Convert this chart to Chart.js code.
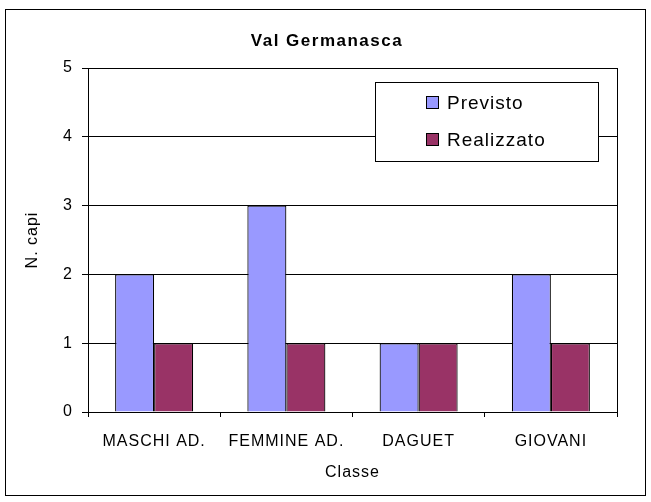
<!DOCTYPE html>
<html>
<head>
<meta charset="utf-8">
<script src="https://cdn.jsdelivr.net/npm/chart.js@4"></script>
<style>
  html, body { margin: 0; padding: 0; background: #fff; }
  #wrap { width: 651px; height: 502px; }
</style>
</head>
<body>
<div id="wrap"><canvas id="graph" width="651" height="502"></canvas></div>
<script>
const categories = ["MASCHI AD.", "FEMMINE AD.", "DAGUET", "GIOVANI"];
const previsto = [2, 3, 1, 2];
const realizzato = [1, 1, 1, 1];
const seriesNames = ["Previsto", "Realizzato"];
const seriesColors = ["#9999FF", "#993366"];
const chartTitle = "Val Germanasca";

const FONT = "'Liberation Sans', Arial, sans-serif";

// outer frame, title, right border of the plot and the boxed legend
const frame = {
  id: "frame",
  beforeDraw(chart) {
    chart.ctx.letterSpacing = "1px";
  },
  afterDraw(chart) {
    const ctx = chart.ctx;
    const area = chart.chartArea;
    ctx.save();
    ctx.strokeStyle = "#000";
    ctx.lineWidth = 1;
    ctx.beginPath();
    ctx.moveTo(Math.round(area.right) + 0.5, area.top);
    ctx.lineTo(Math.round(area.right) + 0.5, area.bottom);
    ctx.stroke();
    ctx.strokeRect(5.5, 9.5, 640, 486);

    // title
    ctx.letterSpacing = "1.5px";
    ctx.font = "bold 17px " + FONT;
    ctx.fillStyle = "#000";
    ctx.textAlign = "center";
    ctx.textBaseline = "middle";
    ctx.fillText(chartTitle, 327, 41);

    // legend
    ctx.letterSpacing = "1px";
    const lx = 375, ly = 82, lw = 223, lh = 79;
    ctx.fillStyle = "#fff";
    ctx.fillRect(lx, ly, lw, lh);
    ctx.strokeRect(lx + 0.5, ly + 0.5, lw, lh);
    ctx.font = "19px " + FONT;
    ctx.textAlign = "left";
    chart.data.datasets.forEach((ds, i) => {
      const cy = 103 + i * 37;
      ctx.fillStyle = ds.backgroundColor;
      ctx.fillRect(426.5, cy - 6.5, 12, 12);
      ctx.strokeRect(426.5, cy - 6.5, 12, 12);
      ctx.fillStyle = "#000";
      ctx.fillText(ds.label, 447, cy + 1);
    });
    ctx.restore();
  }
};

const data = {
  labels: categories,
  datasets: [
    {
      label: seriesNames[0],
      data: previsto,
      backgroundColor: seriesColors[0],
      borderColor: "#000",
      borderWidth: 1.2,
      inflateAmount: 0,
    },
    {
      label: seriesNames[1],
      data: realizzato,
      backgroundColor: seriesColors[1],
      borderColor: "#000",
      borderWidth: 1.2,
      inflateAmount: 0,
    },
  ],
};

new Chart(document.getElementById("graph"), {
  type: "bar",
  data: data,
  plugins: [frame],
  options: {
    responsive: false,
    animation: false,
    layout: { padding: { left: 0, top: 68, right: 34, bottom: 0 } },
    datasets: {
      bar: { categoryPercentage: 0.59, barPercentage: 1 },
    },
    scales: {
      x: {
        grid: { drawOnChartArea: false, tickLength: 5, color: "#000" },
        border: { color: "#000" },
        ticks: {
          padding: 15,
          color: "#000",
          maxRotation: 0,
          font: { family: FONT, size: 16 },
        },
        title: {
          display: true,
          text: "Classe",
          color: "#000",
          padding: { top: 0, bottom: 20 },
          font: { family: FONT, size: 16 },
        },
        afterFit(scale) { scale.height = 90; },
      },
      y: {
        min: 0,
        max: 5,
        grid: { color: "#000", tickLength: 6 },
        border: { color: "#000" },
        ticks: {
          stepSize: 1,
          padding: 9,
          color: "#000",
          font: { family: FONT, size: 16 },
        },
        title: {
          display: true,
          text: "N. capi",
          color: "#000",
          padding: { top: 23, bottom: 0 },
          font: { family: FONT, size: 16 },
        },
        afterFit(scale) { scale.width = 88; },
      },
    },
    plugins: {
      legend: { display: false },
      tooltip: { enabled: false },
      title: { display: false },
    },
  },
});
</script>
</body>
</html>
